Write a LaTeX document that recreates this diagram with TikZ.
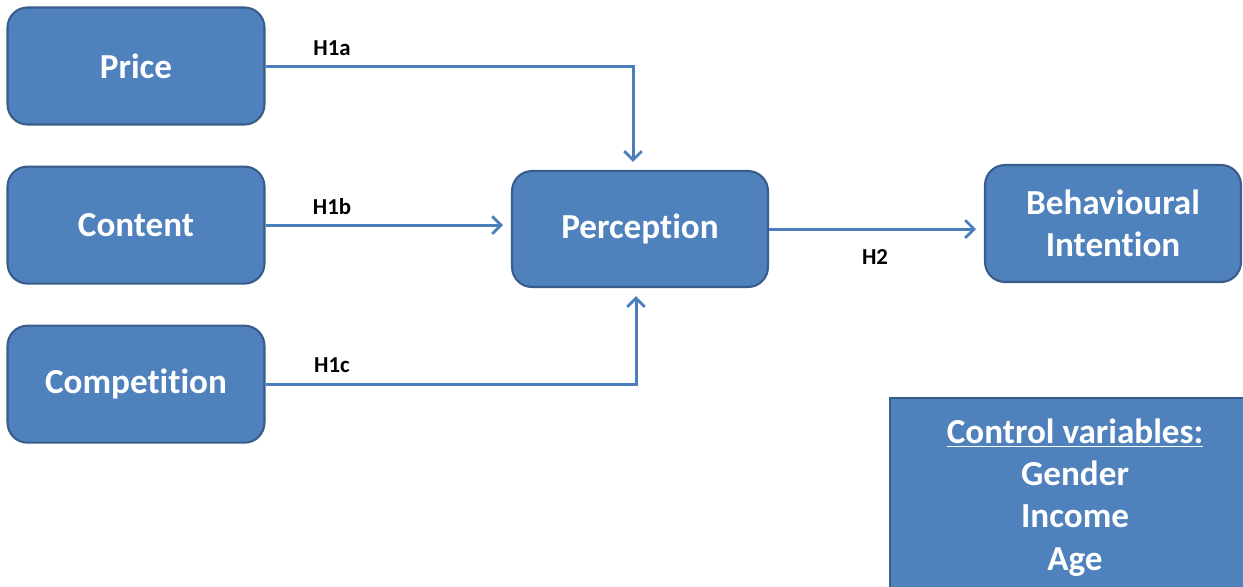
\documentclass[tikz,border=0pt]{standalone}
\usepackage{fontspec}
\setmainfont{Carlito}[Ligatures=CommonOff]
\usepackage{tikz}
\usetikzlibrary{arrows.meta,positioning}
\definecolor{boxfill}{HTML}{4F81BD}
\definecolor{boxline}{HTML}{385D8A}
\definecolor{arrline}{HTML}{4A7EBB}

\begin{document}
\begin{tikzpicture}[x=0.02cm,y=-0.02cm,
  bx/.style={draw=boxline,fill=boxfill,line width=1.2pt,rounded corners=0.4cm,align=center,
    text=white,font=\bfseries\fontsize{20}{24}\selectfont,minimum width=5.14cm,minimum height=2.34cm,inner sep=2pt},
  hyp/.style={font=\bfseries\fontsize{13}{15}\selectfont,text=black},
  ar/.style={-{Straight Barb[length=5pt,width=10pt,line width=1.6pt]},draw=arrline,line width=1.7pt,shorten >=0.16cm}]
\clip (0,0) rectangle (1243,586);

\node[bx] (price) at (136,66) {Price};
\node[bx,below=0.8cm of price] (content) {Content};
\node[bx,below=0.8cm of content] (comp) {Competition};
\node[bx,minimum width=5.12cm,minimum height=2.32cm] (perc) at (640,229) {Perception};
\node[bx,minimum width=5.12cm] (behav) at (1113,223.5) {Behavioural\\Intention};
\node[draw=boxline,fill=boxfill,line width=1.2pt,anchor=north west,minimum width=7.4cm,minimum height=3.98cm,
  align=center,text=white,font=\bfseries\fontsize{20}{24}\selectfont] (ctrl) at (889,397)
  {\underline{Control variables:}\\Gender\\Income\\Age};

\draw[ar] (price.east) -| ([xshift=-0.14cm]perc.north);
\draw[ar] (content.east) -- (content.east -| perc.west);
\draw[ar] (comp.east) -| ([xshift=-0.08cm]perc.south);
\draw[ar] (perc.east) -- (perc.east -| behav.west);

\node[hyp] (h1a) at (332,48) {H1a};
\node[hyp] (h1b) at (332,207) {H1b};
\node[hyp] (h1c) at (332,365) {H1c};
\node[hyp] (h2) at (875,257) {H2};
\end{tikzpicture}
\end{document}
